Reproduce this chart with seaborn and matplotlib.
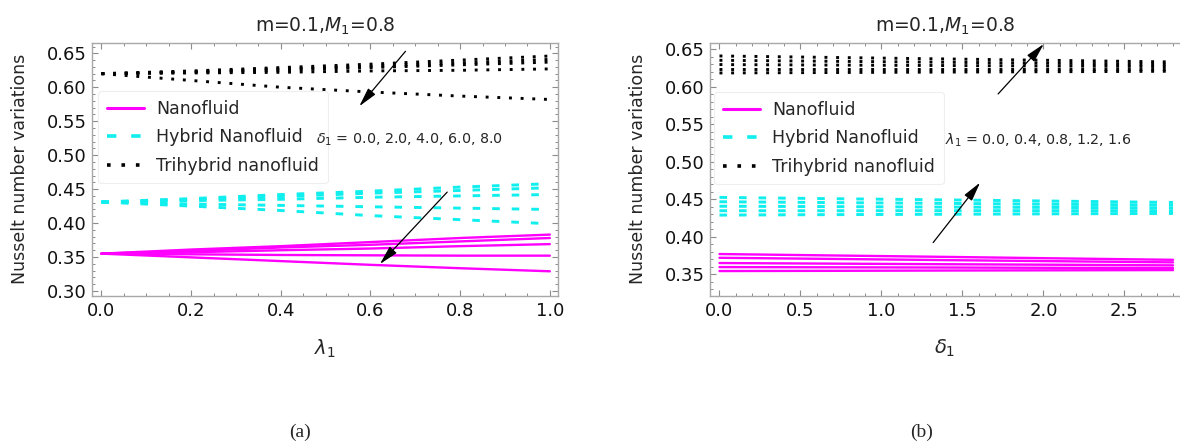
import numpy as np
import pandas as pd
import matplotlib
matplotlib.use("Agg")
import matplotlib.pyplot as plt
from matplotlib.lines import Line2D
from matplotlib.ticker import MultipleLocator, FormatStrFormatter
import seaborn as sns

sns.set_style("white")
plt.rcParams['font.family'] = ['DejaVu Sans']
plt.rcParams['mathtext.fontset'] = 'dejavusans'

# ---------------- data: panel (a)  (x = lambda_1, curves for delta_1) ----------------
lam_a = [0.0, 0.2, 0.4, 0.6, 0.8, 1.0]
delta_vals_a = [0.0, 2.0, 4.0, 6.0, 8.0]
nano_a = [
    [0.355, 0.361, 0.366, 0.372, 0.378, 0.383],
    [0.355, 0.359, 0.364, 0.368, 0.373, 0.378],
    [0.355, 0.357, 0.360, 0.3625, 0.366, 0.369],
    [0.355, 0.354, 0.353, 0.3525, 0.352, 0.352],
    [0.355, 0.3495, 0.344, 0.3385, 0.3335, 0.329],
]
hyb_a = [
    [0.431, 0.436, 0.442, 0.447, 0.453, 0.458],
    [0.431, 0.435, 0.439, 0.444, 0.448, 0.452],
    [0.431, 0.433, 0.435, 0.438, 0.440, 0.442],
    [0.431, 0.428, 0.426, 0.424, 0.422, 0.420],
    [0.431, 0.425, 0.4185, 0.411, 0.405, 0.399],
]
tri_a = [
    [0.620, 0.624, 0.629, 0.634, 0.640, 0.646],
    [0.620, 0.623, 0.627, 0.631, 0.636, 0.641],
    [0.620, 0.622, 0.625, 0.629, 0.633, 0.637],
    [0.620, 0.621, 0.622, 0.624, 0.625, 0.627],
    [0.620, 0.610, 0.600, 0.593, 0.587, 0.582],
]

# ---------------- data: panel (b)  (x = delta_1, curves for lambda_1) ----------------
delta_b = [0.0, 0.7, 1.4, 2.1, 2.8]
lam_vals_b = [0.0, 0.4, 0.8, 1.2, 1.6]
nano_b = [
    [0.3540, 0.3543, 0.3547, 0.3550, 0.3553],
    [0.3593, 0.3590, 0.3587, 0.3583, 0.3580],
    [0.3647, 0.3639, 0.3631, 0.3624, 0.3616],
    [0.3717, 0.3702, 0.3686, 0.3671, 0.3656],
    [0.3767, 0.3748, 0.3729, 0.3709, 0.3690],
]
hyb_b = [
    [0.4287, 0.4293, 0.4298, 0.4304, 0.4309],
    [0.4345, 0.4345, 0.4346, 0.4346, 0.4346],
    [0.4405, 0.4400, 0.4394, 0.4389, 0.4383],
    [0.4465, 0.4454, 0.4443, 0.4431, 0.4420],
    [0.4523, 0.4506, 0.4490, 0.4473, 0.4456],
]
tri_b = [
    [0.6184, 0.6190, 0.6196, 0.6201, 0.6207],
    [0.6237, 0.6237, 0.6237, 0.6237, 0.6237],
    [0.6296, 0.6289, 0.6283, 0.6276, 0.6269],
    [0.6353, 0.6340, 0.6327, 0.6313, 0.6300],
    [0.6411, 0.6391, 0.6371, 0.6351, 0.6331],
]

fluid_names = ["Nanofluid", "Hybrid Nanofluid", "Trihybrid nanofluid"]


def long_frame(xs, params, series_list):
    rows = []
    for name, series in zip(fluid_names, series_list):
        for p, ys in zip(params, series):
            for x, y in zip(xs, ys):
                rows.append({"x": x, "y": y, "fluid": name, "param": p})
    return pd.DataFrame(rows)


df_a = long_frame(lam_a, delta_vals_a, [nano_a, hyb_a, tri_a])
df_b = long_frame(delta_b, lam_vals_b, [nano_b, hyb_b, tri_b])

styles = {
    "Nanofluid": dict(color="#ff00ff", lw=1.7, ls="-"),
    "Hybrid Nanofluid": dict(color="#10eeee", lw=2.1, ls=(0, (2.6, 4.1))),
    "Trihybrid nanofluid": dict(color="black", lw=2.1, ls=(0, (1.0, 3.0))),
}

W, H = 1180, 447
fig = plt.figure(figsize=(W / 100, H / 100), dpi=100)
ax1 = fig.add_axes([92 / W, 1 - 296 / H, 466.4 / W, 253.3 / H])
ax2 = fig.add_axes([710 / W, 1 - 296 / H, 470 / W, 253.3 / H])

for ax, df in ((ax1, df_a), (ax2, df_b)):
    for name in fluid_names:
        st = styles[name]
        sns.lineplot(data=df[df.fluid == name], x="x", y="y", units="param",
                     estimator=None, color=st["color"], linewidth=st["lw"],
                     linestyle=st["ls"], ax=ax, legend=False)

frame_c = "#a8a8a8"
for ax in (ax1, ax2):
    for sp in ax.spines.values():
        sp.set_color(frame_c)
        sp.set_linewidth(1.0)
    ax.tick_params(which="both", direction="in", top=True, right=True,
                   bottom=True, left=True,
                   color="#8c8c8c", labelcolor="#111111", labelsize=13, pad=4)
    ax.tick_params(which="major", length=4.5, width=0.8)
    ax.tick_params(which="minor", length=2.5, width=0.7)
    ax.yaxis.set_major_locator(MultipleLocator(0.05))
    ax.yaxis.set_minor_locator(MultipleLocator(0.01))
    ax.yaxis.set_major_formatter(FormatStrFormatter("%.2f"))
    ax.xaxis.set_major_formatter(FormatStrFormatter("%.1f"))
    ax.set_ylabel("Nusselt number variations", fontsize=12.5)
    ax.yaxis.set_label_coords(-0.135, 0.5)
    ax.set_title("m=0.1,$M_1$=0.8", fontsize=13.5, pad=8)

ax1.set_xlim(-0.021, 1.019)
ax1.set_ylim(0.2926, 0.6656)
ax1.xaxis.set_major_locator(MultipleLocator(0.2))
ax1.xaxis.set_minor_locator(MultipleLocator(0.05))
ax1.set_xlabel(r"$\lambda_1$", fontsize=14)

ax2.set_xlim(-0.0586, 2.843)
ax2.set_ylim(0.3207, 0.6588)
ax2.xaxis.set_major_locator(MultipleLocator(0.5))
ax2.xaxis.set_minor_locator(MultipleLocator(0.1))
ax2.set_xlabel(r"$\delta_1$", fontsize=14)
ax2.spines["right"].set_visible(False)
ax2.tick_params(which="both", right=False)

for ax in (ax1, ax2):
    ax.xaxis.set_label_coords(0.5, -0.165)

# legends
handles = [Line2D([], [], color=styles[n]["color"], lw=styles[n]["lw"] + 0.5,
                  ls=styles[n]["ls"]) for n in fluid_names]
for ax, anchor in ((ax1, (0.013, 0.809)), (ax2, (0.0085, 0.805))):
    leg = ax.legend(handles, fluid_names, loc="upper left", bbox_to_anchor=anchor,
                    borderaxespad=0, fontsize=12.5, handlelength=2.15,
                    handletextpad=0.7, labelspacing=0.6, borderpad=0.5,
                    frameon=True, fancybox=True, framealpha=1.0)
    leg.get_frame().set_edgecolor("#eeeeee")
    leg.get_frame().set_linewidth(0.8)

# annotations
arrow_kw = dict(arrowstyle="-|>,head_length=0.9,head_width=0.22", color="black",
                lw=0.9, mutation_scale=13, shrinkA=0, shrinkB=0)
ax1.annotate("", xy=(0.575, 0.572), xytext=(0.678, 0.6529), arrowprops=arrow_kw)
ax1.annotate("", xy=(0.621, 0.3397), xytext=(0.771, 0.4456), arrowprops=arrow_kw)
ax1.text(0.478, 0.5223, r"$\delta_1$ = 0.0, 2.0, 4.0, 6.0, 8.0", fontsize=10.3,
         ha="left", va="center", zorder=10)

ax2.annotate("", xy=(2.002, 0.657), xytext=(1.720, 0.5904), arrowprops=arrow_kw,
             annotation_clip=False)
ax2.annotate("", xy=(1.609, 0.4721), xytext=(1.319, 0.392), arrowprops=arrow_kw)
ax2.text(1.39, 0.5287, r"$\lambda_1$ = 0.0, 0.4, 0.8, 1.2, 1.6", fontsize=10.3,
         ha="left", va="center", zorder=10)

# captions
fig.text(300 / W, 1 - 432 / H, "(a)", family="Liberation Serif", fontsize=14,
         ha="center", va="center")
fig.text(921.6 / W, 1 - 432 / H, "(b)", family="Liberation Serif", fontsize=14,
         ha="center", va="center")

fig.savefig("out.png", dpi=100)
